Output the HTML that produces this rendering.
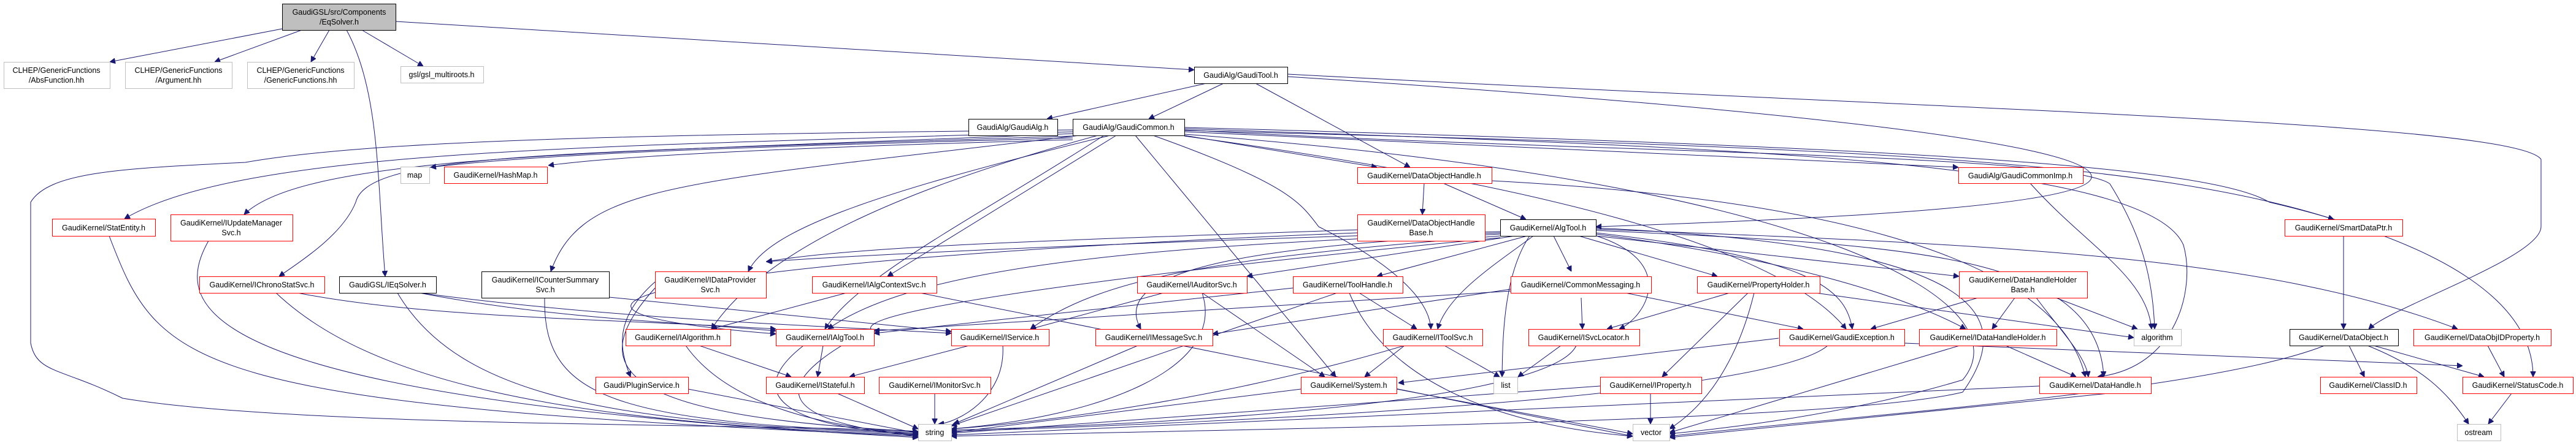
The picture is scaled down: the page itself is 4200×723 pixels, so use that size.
<!DOCTYPE html>
<html><head><meta charset="utf-8"><style>
html,body{margin:0;padding:0;background:#fff;}
svg{display:block;}
text{font-family:"Liberation Sans",sans-serif;font-size:12.5px;fill:#000;text-anchor:middle;}
.e{fill:none;stroke:#191970;stroke-width:1;marker-end:url(#a);}
.r{fill:#fff;stroke:#ff0000;}
.b{fill:#fff;stroke:#000;}
.g{fill:#fff;stroke:#bfbfbf;}
</style></head><body>
<svg width="4200" height="723" viewBox="0 0 4200 723" xmlns="http://www.w3.org/2000/svg">
<defs><marker id="a" viewBox="0 0 10 10" refX="10" refY="5" markerWidth="9" markerHeight="9" markerUnits="userSpaceOnUse" orient="auto"><path d="M0,0 L10,5 L0,10 z" fill="#191970" stroke="#191970"/></marker></defs>
<g>
<path class="e" d="M460,47 L179,101"/>
<path class="e" d="M492,49 L350,101"/>
<path class="e" d="M537,49 L507,101"/>
<path class="e" d="M590,49 L690,108"/>
<path class="e" d="M565,49 C620,150 615,300 628,451"/>
<path class="e" d="M645,35 L1947,114"/>
<path class="e" d="M1967,136 L1707,194"/>
<path class="e" d="M1995,136 L1873,194"/>
<path class="e" d="M2047,136 L2299,273"/>
<path class="e" d="M2099,121 C3200,180 4100,200 4143,260 L4143,370 C4143,420 3900,500 3862,537"/>
<path class="e" d="M2099,125 C2800,170 3420,230 3410,290 C3400,340 2900,360 2602,370"/>
<path class="e" d="M1749,215 C1000,240 400,240 203,357"/>
<path class="e" d="M1749,218 C1000,250 500,250 398,350"/>
<path class="e" d="M1749,222 C900,250 600,250 580,330 C560,380 500,420 455,451"/>
<path class="e" d="M1749,225 C1200,240 900,250 702,273"/>
<path class="e" d="M1749,228 C1300,240 1000,255 894,270"/>
<path class="e" d="M1749,212 C1000,220 600,230 400,265 C200,275 80,280 50,330 L50,560 C60,610 100,600 200,650 C500,700 1300,690 1497,705"/>
<path class="e" d="M1760,221 C1100,300 950,300 898,443"/>
<path class="e" d="M1810,221 C1400,320 1250,380 1220,443"/>
<path class="e" d="M1820,221 L1447,451"/>
<path class="e" d="M1851,221 L2178,615"/>
<path class="e" d="M1880,221 C2100,300 2120,330 2150,370 C2250,420 2330,480 2333,537"/>
<path class="e" d="M1931,221 L2245,273"/>
<path class="e" d="M1931,215 L3193,273"/>
<path class="e" d="M1931,212 C2600,250 3370,250 3440,300 C3490,380 3510,450 3513,537"/>
<path class="e" d="M1931,210 C2800,240 3500,260 3560,400 C3580,470 3550,600 3420,615"/>
<path class="e" d="M1931,213 C3000,240 3500,260 3805,358"/>
<path class="e" d="M1931,208 C3100,240 3600,270 3700,330 C4000,400 4130,500 4130,615"/>
<path class="e" d="M1931,222 C2500,300 2900,400 3010,537"/>
<path class="e" d="M1800,221 C1600,350 1400,450 1345,537"/>
<path class="e" d="M1790,221 C1500,300 1250,400 1160,537"/>
<path class="e" d="M1931,219 C3000,300 3300,500 3200,620 C3000,680 2800,700 2722,708"/>
<path class="e" d="M2322,299 L2319,350"/>
<path class="e" d="M2353,299 L2488,358"/>
<path class="e" d="M2432,295 C2900,320 3350,400 3400,615"/>
<path class="e" d="M2213,375 C1800,390 1400,400 1250,427"/>
<path class="e" d="M2213,380 C1200,420 700,500 1265,545"/>
<path class="e" d="M2470,385 L2033,451"/>
<path class="e" d="M2490,385 L2245,451"/>
<path class="e" d="M2533,385 L2562,443"/>
<path class="e" d="M2500,385 C2440,430 2360,480 2344,537"/>
<path class="e" d="M2494,385 C2450,450 2450,560 2449,615"/>
<path class="e" d="M2603,385 C2740,430 2680,520 2640,537"/>
<path class="e" d="M2574,385 L2800,451"/>
<path class="e" d="M2446,382 C2100,400 1800,430 1860,537"/>
<path class="e" d="M2446,385 C2000,420 1800,450 1680,537"/>
<path class="e" d="M2446,380 C1900,400 1500,430 1350,537"/>
<path class="e" d="M2446,378 C2000,390 1500,410 1249,427"/>
<path class="e" d="M2602,385 L3194,451"/>
<path class="e" d="M2602,380 C2950,420 3010,470 3020,537"/>
<path class="e" d="M2602,382 C2900,420 3100,480 3205,537"/>
<path class="e" d="M2602,376 C3100,400 3420,410 3430,615"/>
<path class="e" d="M2602,374 C3300,400 3700,420 4007,537"/>
<path class="e" d="M2602,372 C3200,400 3300,500 3200,640 C3000,690 2000,700 1551,712"/>
<path class="e" d="M2446,388 C2000,430 1400,500 1420,537 C1300,600 1200,680 1497,712"/>
<path class="e" d="M178,385 C260,600 300,660 1497,712"/>
<path class="e" d="M340,393 C280,500 300,650 1497,714"/>
<path class="e" d="M450,478 C600,620 900,690 1497,710"/>
<path class="e" d="M485,478 C700,520 1000,520 1265,537"/>
<path class="e" d="M648,478 C750,650 1000,690 1497,708"/>
<path class="e" d="M684,478 C900,520 1100,525 1265,540"/>
<path class="e" d="M684,478 C1000,520 1300,530 1551,544"/>
<path class="e" d="M888,486 C885,650 1000,690 1497,706"/>
<path class="e" d="M993,485 L1551,541"/>
<path class="e" d="M1068,460 C1000,520 1010,570 1028,615"/>
<path class="e" d="M1068,470 C950,600 1000,680 1497,704"/>
<path class="e" d="M1380,478 L1160,537"/>
<path class="e" d="M1500,478 L2662,712"/>
<path class="e" d="M1140,564 L1290,615"/>
<path class="e" d="M1118,564 C1200,680 1400,700 1497,709"/>
<path class="e" d="M1342,564 L1333,615"/>
<path class="e" d="M1310,564 C1200,650 1300,700 1497,709"/>
<path class="e" d="M1580,564 L1385,615"/>
<path class="e" d="M1635,564 C1640,650 1560,690 1530,692"/>
<path class="e" d="M1855,564 L1555,692"/>
<path class="e" d="M2290,564 L2225,615"/>
<path class="e" d="M2355,564 L2445,615"/>
<path class="e" d="M2290,564 C2000,650 1700,690 1551,700"/>
<path class="e" d="M2545,564 L2475,615"/>
<path class="e" d="M2570,564 C2530,650 2000,690 1551,702"/>
<path class="e" d="M2900,552 L2280,625"/>
<path class="e" d="M2980,564 C2880,650 2000,690 1551,704"/>
<path class="e" d="M3105,560 L4015,597"/>
<path class="e" d="M3270,564 L3385,615"/>
<path class="e" d="M3195,564 L2722,706"/>
<path class="e" d="M3830,564 L3855,615"/>
<path class="e" d="M3870,564 L4050,615"/>
<path class="e" d="M3860,564 C3950,600 3990,640 4025,692"/>
<path class="e" d="M3790,564 C3600,640 3000,680 2722,712"/>
<path class="e" d="M4056,564 L4083,615"/>
<path class="e" d="M4095,642 L4057,692"/>
<path class="e" d="M3225,486 L3050,537"/>
<path class="e" d="M3285,486 L3248,537"/>
<path class="e" d="M3320,486 C3360,540 3400,580 3405,615"/>
<path class="e" d="M3352,486 L3485,537"/>
<path class="e" d="M3821,385 L3821,537"/>
<path class="e" d="M3310,299 C3400,400 3500,450 3508,537"/>
<path class="e" d="M2820,478 L2620,537"/>
<path class="e" d="M2850,478 L2710,615"/>
<path class="e" d="M2960,478 L3479,551"/>
<path class="e" d="M2860,478 C2840,560 2800,650 2722,700"/>
<path class="e" d="M2578,486 L2580,537"/>
<path class="e" d="M2476,470 L1977,545"/>
<path class="e" d="M2463,475 L1425,540"/>
<path class="e" d="M2650,478 L2940,537"/>
<path class="e" d="M2216,478 L2310,537"/>
<path class="e" d="M2108,470 L1425,544"/>
<path class="e" d="M2180,478 L1551,695"/>
<path class="e" d="M2200,478 C2250,600 2400,690 2662,712"/>
<path class="e" d="M1897,478 L1680,537"/>
<path class="e" d="M1960,478 L2160,615"/>
<path class="e" d="M1960,478 C2000,600 1800,680 1551,700"/>
<path class="e" d="M1524,642 L1524,692"/>
<path class="e" d="M2121,635 L1551,706"/>
<path class="e" d="M2277,635 L2662,708"/>
<path class="e" d="M2691,642 L2691,692"/>
<path class="e" d="M2609,630 L1551,707"/>
<path class="e" d="M1122,635 L1497,707"/>
<path class="e" d="M1365,642 L1497,700"/>
<path class="e" d="M3325,630 L1551,710"/>
<path class="e" d="M3507,635 L2722,714"/>
</g>
<g>
<rect x="460.5" y="6.5" width="185" height="43" fill="#bfbfbf" stroke="#000"/><text x="553" y="24">GaudiGSL/src/Components</text><text x="553" y="40">/EqSolver.h</text>
<rect class="g" x="6.5" y="101.5" width="173" height="43"/><text x="92" y="119">CLHEP/GenericFunctions</text><text x="92" y="135">/AbsFunction.hh</text>
<rect class="g" x="204.5" y="101.5" width="174" height="43"/><text x="291" y="119">CLHEP/GenericFunctions</text><text x="291" y="135">/Argument.hh</text>
<rect class="g" x="403.5" y="101.5" width="174" height="43"/><text x="490" y="119">CLHEP/GenericFunctions</text><text x="490" y="135">/GenericFunctions.hh</text>
<rect class="g" x="653.5" y="108.5" width="135" height="27"/><text x="720" y="126">gsl/gsl_multiroots.h</text>
<rect class="b" x="1947.5" y="109.5" width="152" height="27"/><text x="2023" y="127">GaudiAlg/GaudiTool.h</text>
<rect class="b" x="1579.5" y="194.5" width="145" height="27"/><text x="1651" y="212">GaudiAlg/GaudiAlg.h</text>
<rect class="b" x="1749.5" y="194.5" width="182" height="27"/><text x="1840" y="212">GaudiAlg/GaudiCommon.h</text>
<rect class="g" x="653.5" y="272.5" width="47" height="27"/><text x="676" y="290">map</text>
<rect class="r" x="724.5" y="272.5" width="168" height="27"/><text x="808" y="290">GaudiKernel/HashMap.h</text>
<rect class="r" x="2213.5" y="273.5" width="219" height="26"/><text x="2322" y="291">GaudiKernel/DataObjectHandle.h</text>
<rect class="r" x="3193.5" y="273.5" width="203" height="26"/><text x="3294" y="291">GaudiAlg/GaudiCommonImp.h</text>
<rect class="r" x="2213.5" y="350.5" width="208" height="43"/><text x="2317" y="368">GaudiKernel/DataObjectHandle</text><text x="2317" y="384">Base.h</text>
<rect class="b" x="2446.5" y="358.5" width="156" height="27"/><text x="2524" y="376">GaudiKernel/AlgTool.h</text>
<rect class="r" x="85.5" y="357.5" width="168" height="28"/><text x="169" y="376">GaudiKernel/StatEntity.h</text>
<rect class="r" x="278.5" y="350.5" width="199" height="43"/><text x="377" y="368">GaudiKernel/IUpdateManager</text><text x="377" y="384">Svc.h</text>
<rect class="r" x="3725.5" y="358.5" width="192" height="27"/><text x="3821" y="376">GaudiKernel/SmartDataPtr.h</text>
<rect class="r" x="325.5" y="451.5" width="204" height="27"/><text x="427" y="469">GaudiKernel/IChronoStatSvc.h</text>
<rect class="b" x="553.5" y="451.5" width="158" height="27"/><text x="632" y="469">GaudiGSL/IEqSolver.h</text>
<rect class="b" x="785.5" y="443.5" width="208" height="43"/><text x="889" y="461">GaudiKernel/ICounterSummary</text><text x="889" y="477">Svc.h</text>
<rect class="r" x="1068.5" y="443.5" width="181" height="43"/><text x="1158" y="461">GaudiKernel/IDataProvider</text><text x="1158" y="477">Svc.h</text>
<rect class="r" x="1324.5" y="451.5" width="203" height="27"/><text x="1425" y="469">GaudiKernel/IAlgContextSvc.h</text>
<rect class="r" x="1854.5" y="451.5" width="179" height="27"/><text x="1943" y="469">GaudiKernel/IAuditorSvc.h</text>
<rect class="r" x="2108.5" y="451.5" width="179" height="27"/><text x="2197" y="469">GaudiKernel/ToolHandle.h</text>
<rect class="r" x="2463.5" y="451.5" width="229" height="27"/><text x="2577" y="469">GaudiKernel/CommonMessaging.h</text>
<rect class="r" x="2767.5" y="451.5" width="200" height="27"/><text x="2867" y="469">GaudiKernel/PropertyHolder.h</text>
<rect class="r" x="3194.5" y="443.5" width="209" height="43"/><text x="3298" y="461">GaudiKernel/DataHandleHolder</text><text x="3298" y="477">Base.h</text>
<rect class="r" x="1020.5" y="537.5" width="171" height="27"/><text x="1105" y="555">GaudiKernel/IAlgorithm.h</text>
<rect class="r" x="1265.5" y="537.5" width="160" height="27"/><text x="1345" y="555">GaudiKernel/IAlgTool.h</text>
<rect class="r" x="1551.5" y="537.5" width="159" height="27"/><text x="1630" y="555">GaudiKernel/IService.h</text>
<rect class="r" x="1786.5" y="537.5" width="191" height="27"/><text x="1881" y="555">GaudiKernel/IMessageSvc.h</text>
<rect class="r" x="2255.5" y="537.5" width="162" height="27"/><text x="2336" y="555">GaudiKernel/IToolSvc.h</text>
<rect class="r" x="2492.5" y="537.5" width="181" height="27"/><text x="2582" y="555">GaudiKernel/ISvcLocator.h</text>
<rect class="r" x="2901.5" y="537.5" width="204" height="27"/><text x="3003" y="555">GaudiKernel/GaudiException.h</text>
<rect class="r" x="3129.5" y="537.5" width="224" height="27"/><text x="3241" y="555">GaudiKernel/IDataHandleHolder.h</text>
<rect class="g" x="3479.5" y="537.5" width="77" height="27"/><text x="3517" y="555">algorithm</text>
<rect class="b" x="3733.5" y="537.5" width="177" height="27"/><text x="3821" y="555">GaudiKernel/DataObject.h</text>
<rect class="r" x="3935.5" y="537.5" width="224" height="27"/><text x="4047" y="555">GaudiKernel/DataObjIDProperty.h</text>
<rect class="r" x="971.5" y="615.5" width="151" height="27"/><text x="1046" y="633">Gaudi/PluginService.h</text>
<rect class="r" x="1249.5" y="615.5" width="160" height="27"/><text x="1329" y="633">GaudiKernel/IStateful.h</text>
<rect class="r" x="1433.5" y="615.5" width="182" height="27"/><text x="1524" y="633">GaudiKernel/IMonitorSvc.h</text>
<rect class="r" x="2121.5" y="615.5" width="156" height="27"/><text x="2199" y="633">GaudiKernel/System.h</text>
<rect class="g" x="2435.5" y="615.5" width="39" height="27"/><text x="2455" y="633">list</text>
<rect class="r" x="2609.5" y="615.5" width="165" height="27"/><text x="2691" y="633">GaudiKernel/IProperty.h</text>
<rect class="r" x="3325.5" y="615.5" width="182" height="27"/><text x="3416" y="633">GaudiKernel/DataHandle.h</text>
<rect class="r" x="3783.5" y="615.5" width="157" height="27"/><text x="3861" y="633">GaudiKernel/ClassID.h</text>
<rect class="r" x="4015.5" y="615.5" width="180" height="27"/><text x="4105" y="633">GaudiKernel/StatusCode.h</text>
<rect class="g" x="1497.5" y="692.5" width="54" height="27"/><text x="1524" y="710">string</text>
<rect class="g" x="2662.5" y="692.5" width="60" height="27"/><text x="2692" y="710">vector</text>
<rect class="g" x="4006.5" y="692.5" width="71" height="27"/><text x="4041" y="710">ostream</text>
</g>
</svg>
</body></html>
